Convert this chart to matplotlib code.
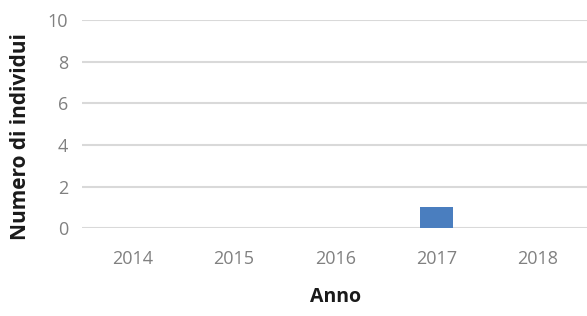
import matplotlib.pyplot as plt

anni = ['2014', '2015', '2016', '2017', '2018']
individui = [0, 0, 0, 1, 0]
y_ticks = [0, 2, 4, 6, 8, 10]

plt.rcParams['font.family'] = ['Open Sans', 'DejaVu Sans']

fig = plt.figure(figsize=(5.87, 3.16), dpi=100)
ax = fig.add_axes([0.14, 0.278, 0.862, 0.659])

x = range(len(anni))
ax.bar(x, individui, width=0.32, color='#4a7ebf', zorder=3)

ax.set_xlim(-0.5, len(anni) - 0.5)
ax.set_ylim(0, 10)
ax.set_yticks(y_ticks)
ax.set_xticks(list(x))
ax.set_xticklabels(anni)
ax.yaxis.grid(True, color='#d9d9d9', linewidth=1.5, zorder=0)
for s in ax.spines.values():
    s.set_visible(False)
ax.tick_params(length=0, colors='#808080', labelsize=13)
ax.tick_params(axis='x', pad=16)
ax.tick_params(axis='y', pad=10)

ax.set_xlabel('Anno', fontsize=14, fontweight='bold', color='#1a1a1a')
ax.set_ylabel('Numero di individui', fontsize=15, fontweight='bold', color='#1a1a1a')
ax.xaxis.set_label_coords(0.5, -(297 - 228) / 208)
ax.yaxis.set_label_coords(-(82 - 20) / 506, (228 - 137) / 208)
ax.xaxis.label.set_va('center')
ax.yaxis.label.set_va('center')

fig.savefig('out.png', dpi=100)
